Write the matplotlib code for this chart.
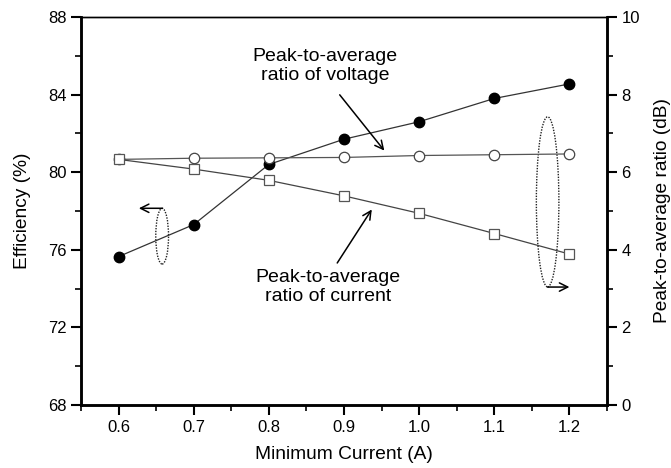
import matplotlib.pyplot as plt
import matplotlib.patches as mpatches
from matplotlib.ticker import MultipleLocator

plt.rcParams['font.family'] = ['Liberation Sans', 'DejaVu Sans']

# --- Data ---
min_current = [0.6, 0.7, 0.8, 0.9, 1.0, 1.1, 1.2]
efficiency = [75.65, 77.3, 80.4, 81.7, 82.6, 83.8, 84.55]
par_voltage = [6.33, 6.36, 6.37, 6.38, 6.43, 6.45, 6.47]
par_current = [6.33, 6.08, 5.79, 5.39, 4.94, 4.42, 3.89]

fig = plt.figure(figsize=(6.71, 4.68), dpi=100)
ax = fig.add_axes([0.1207, 0.1346, 0.7839, 0.8291])
ax2 = ax.twinx()

line_col = '#333333'
ax.plot(min_current, efficiency, '-o', color=line_col, lw=0.9,
        markerfacecolor='black', markeredgecolor='black', markersize=7.5, zorder=3)
ax2.plot(min_current, par_voltage, '-o', color='#555555', lw=0.9,
         markerfacecolor='white', markeredgecolor='#444444', markersize=7.5,
         markeredgewidth=0.9, zorder=3)
ax2.plot(min_current, par_current, '-s', color='#444444', lw=0.9,
         markerfacecolor='white', markeredgecolor='#555555', markersize=6.5,
         markeredgewidth=0.9, zorder=3)

ax.set_xlim(0.55, 1.25)
ax.set_ylim(68, 88)
ax2.set_ylim(0, 10)

ax.xaxis.set_minor_locator(MultipleLocator(0.05))
ax.yaxis.set_major_locator(MultipleLocator(4))
ax.yaxis.set_minor_locator(MultipleLocator(2))
ax2.yaxis.set_major_locator(MultipleLocator(2))
ax2.yaxis.set_minor_locator(MultipleLocator(1))
ax.set_xticks([0.6, 0.7, 0.8, 0.9, 1.0, 1.1, 1.2])
ax.set_xticklabels(['0.6', '0.7', '0.8', '0.9', '1.0', '1.1', '1.2'])

for a in (ax, ax2):
    a.tick_params(which='major', direction='out', length=7, width=1.5, labelsize=12)
    a.tick_params(which='minor', direction='out', length=4, width=1.2)
    for s in ('left', 'bottom', 'right'):
        a.spines[s].set_linewidth(1.8)
    a.spines['top'].set_linewidth(1.0)

ax.set_xlabel('Minimum Current (A)', fontsize=13.8, labelpad=8)
ax.set_ylabel('Efficiency (%)', fontsize=13.8, labelpad=12)
ax2.set_ylabel('Peak-to-average ratio (dB)', fontsize=13.8, labelpad=10)

# --- Annotations ---
arrow_kw = dict(arrowstyle='->', color='black', lw=1.1, mutation_scale=15)

ax.text(0.875, 85.45, 'Peak-to-average\nratio of voltage', ha='center', va='center',
        fontsize=14, linespacing=1.15)
ax.annotate('', xy=(0.956, 81.0), xytext=(0.892, 84.1), arrowprops=arrow_kw)

ax.text(0.879, 74.06, 'Peak-to-average\nratio of current', ha='center', va='center',
        fontsize=14, linespacing=1.15)
ax.annotate('', xy=(0.939, 78.2), xytext=(0.889, 75.2), arrowprops=arrow_kw)

# dotted ellipses with arrows pointing to the matching axis
small_arrow = dict(arrowstyle='->', color='black', lw=1.1,
                   mutation_scale=15, shrinkA=0, shrinkB=0)

e1 = mpatches.Ellipse((0.658, 76.7), 0.017, 2.87, fill=False,
                      ls=(0, (1, 1)), lw=1.0, edgecolor='#222222')
ax.add_patch(e1)
ax.annotate('', xy=(0.627, 78.14), xytext=(0.6585, 78.14), arrowprops=small_arrow)

e2 = mpatches.Ellipse((1.171, 78.47), 0.03, 8.77, fill=False,
                      ls=(0, (1, 1)), lw=1.0, edgecolor='#222222')
ax.add_patch(e2)
ax.annotate('', xy=(1.2, 74.08), xytext=(1.171, 74.08), arrowprops=small_arrow)

fig.savefig('out.png', dpi=100, facecolor='white')
